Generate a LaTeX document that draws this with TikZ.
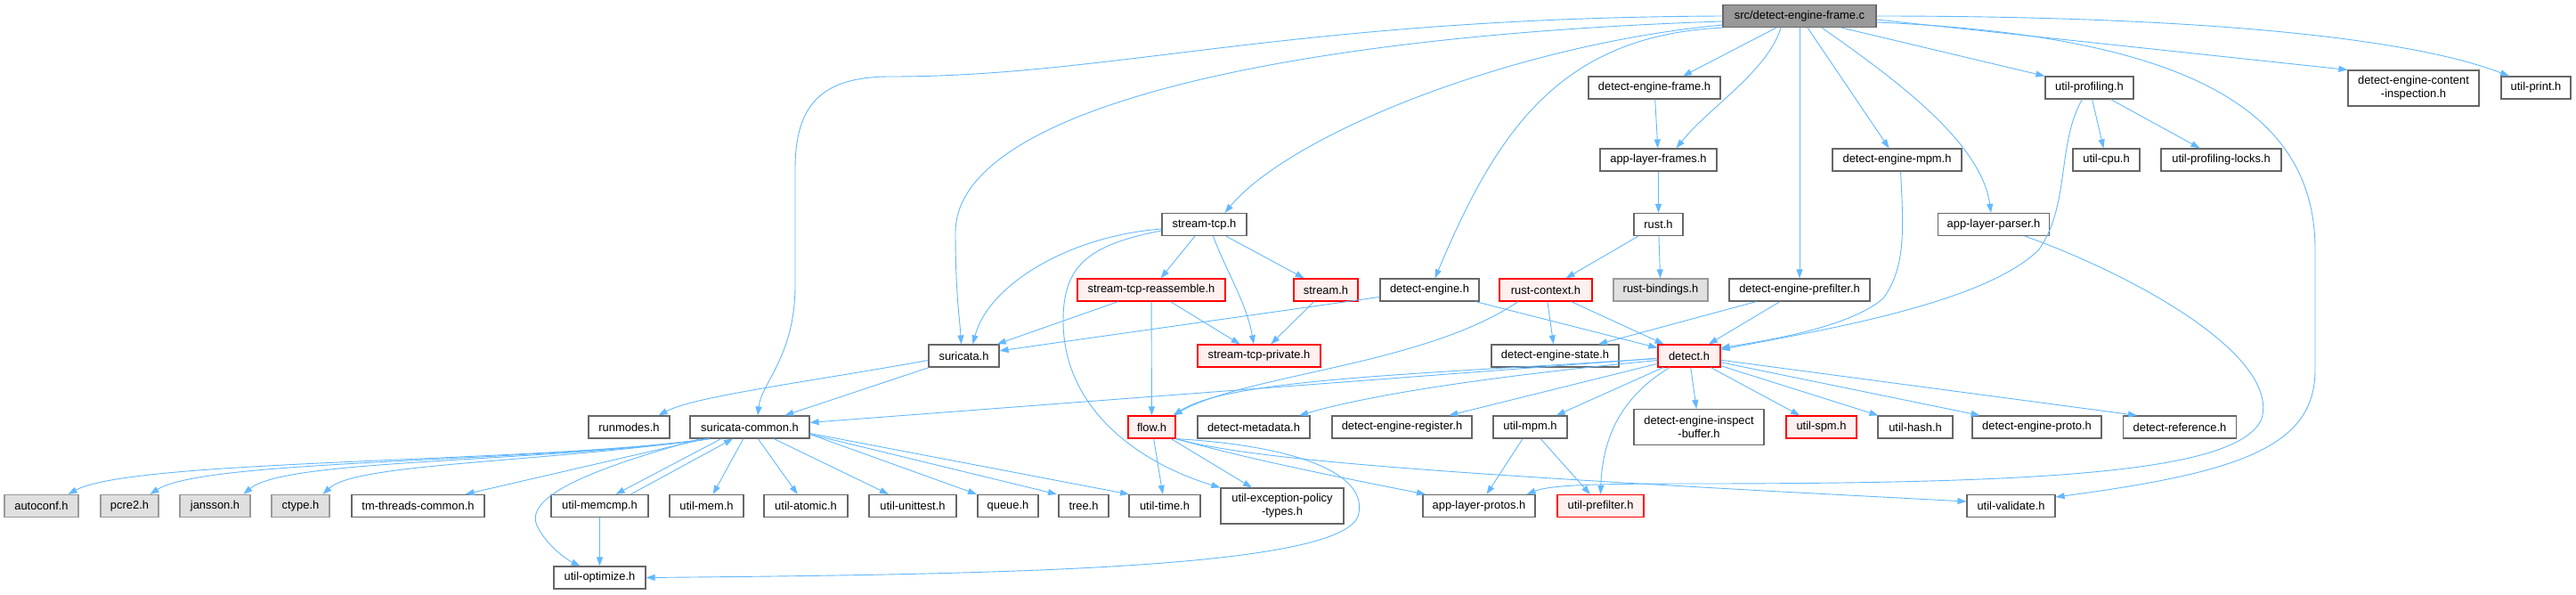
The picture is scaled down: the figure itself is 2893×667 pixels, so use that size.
\documentclass[tikz,border=0pt]{standalone}
\usepackage{fontspec}
\setmainfont{Liberation Sans}
\usetikzlibrary{arrows.meta}
\definecolor{incblue}{HTML}{63B8FF}
\definecolor{boxline}{HTML}{666666}
\definecolor{rootfill}{HTML}{999999}
\definecolor{sysfill}{HTML}{E0E0E0}
\definecolor{sysline}{HTML}{999999}
\definecolor{redfill}{HTML}{FFF0F0}
\begin{document}
\begin{tikzpicture}[x=1pt,y=-1pt,
   hdr/.style={draw=boxline,fill=white,line width=1.2pt,inner sep=0pt,
      minimum height=25pt,font=\fontsize{12.9pt}{15pt}\selectfont},
   rootfile/.style={hdr,fill=rootfill},
   redhdr/.style={hdr,draw=red,fill=redfill},
   syshdr/.style={hdr,draw=sysline,fill=sysfill},
   tall/.style={minimum height=40pt,align=center},
   inc/.style={draw=incblue,line width=0.9pt,-{Triangle[length=10pt,width=7pt]}}]
\useasboundingbox (0,0) rectangle (2893,667);
\node[rootfile,minimum width=172pt] (src) at (2021,18) {src/detect-engine-frame.c};
\node[hdr,minimum width=148pt] (dframe) at (1858,98.5) {detect-engine-frame.h};
\node[hdr,minimum width=99pt] (uprof) at (2346.5,98.5) {util-profiling.h};
\node[hdr,tall,minimum width=147pt] (dcontent) at (2710.5,99) {detect-engine-content\\-inspection.h};
\node[hdr,minimum width=78pt] (uprint) at (2848,98.5) {util-print.h};
\node[hdr,minimum width=131pt] (alframes) at (1862.5,179.5) {app-layer-frames.h};
\node[hdr,minimum width=145pt] (dempm) at (2130.5,179.5) {detect-engine-mpm.h};
\node[hdr,minimum width=75pt] (ucpu) at (2365.5,179.5) {util-cpu.h};
\node[hdr,minimum width=135pt] (uplocks) at (2494.5,179.5) {util-profiling-locks.h};
\node[hdr,minimum width=95pt] (streamtcp) at (1352.5,252) {stream-tcp.h};
\node[hdr,minimum width=55pt] (rust) at (1862.5,252) {rust.h};
\node[hdr,minimum width=125pt] (alparser) at (2239,252) {app-layer-parser.h};
\node[redhdr,minimum width=166pt] (reassemble) at (1293,325.5) {stream-tcp-reassemble.h};
\node[redhdr,minimum width=72pt] (stream) at (1489,325.5) {stream.h};
\node[hdr,minimum width=111pt] (dengine) at (1605.5,325.5) {detect-engine.h};
\node[redhdr,minimum width=104pt] (rustctx) at (1736,325.5) {rust-context.h};
\node[syshdr,minimum width=106pt] (rbind) at (1865,325.5) {rust-bindings.h};
\node[hdr,minimum width=158pt] (prefilter) at (2021,325.5) {detect-engine-prefilter.h};
\node[hdr,minimum width=79pt] (suricata) at (1082.5,399.5) {suricata.h};
\node[redhdr,minimum width=138pt] (stcppriv) at (1414,399.5) {stream-tcp-private.h};
\node[hdr,minimum width=143pt] (destate) at (1746.5,399.5) {detect-engine-state.h};
\node[redhdr,minimum width=70pt] (detect) at (1897,399.5) {detect.h};
\node[hdr,minimum width=91pt] (runmodes) at (706.5,479.5) {runmodes.h};
\node[hdr,minimum width=134pt] (scommon) at (842,479.5) {suricata-common.h};
\node[redhdr,minimum width=53pt] (flow) at (1293.5,479.5) {flow.h};
\node[hdr,minimum width=126pt] (dmeta) at (1408,479.5) {detect-metadata.h};
\node[hdr,minimum width=157pt] (dereg) at (1574.5,479.5) {detect-engine-register.h};
\node[hdr,minimum width=83pt] (umpm) at (1718.5,479.5) {util-mpm.h};
\node[hdr,tall,minimum width=146pt] (inspbuf) at (1908,479.5) {detect-engine-inspect\\-buffer.h};
\node[redhdr,minimum width=79pt] (uspm) at (2045.5,479.5) {util-spm.h};
\node[hdr,minimum width=84pt] (uhash) at (2151,479.5) {util-hash.h};
\node[hdr,minimum width=145pt] (deproto) at (2287.5,479.5) {detect-engine-proto.h};
\node[hdr,minimum width=127pt] (dref) at (2448,479.5) {detect-reference.h};
\node[syshdr,minimum width=83pt] (autoconf) at (46.5,568) {autoconf.h};
\node[syshdr,minimum width=65pt] (pcre) at (145.5,568) {pcre2.h};
\node[syshdr,minimum width=79pt] (jansson) at (241.5,568) {jansson.h};
\node[syshdr,minimum width=65pt] (ctype) at (337.5,568) {ctype.h};
\node[hdr,minimum width=149pt] (tmthreads) at (469.5,568) {tm-threads-common.h};
\node[hdr,minimum width=109pt] (umemcmp) at (673.5,568) {util-memcmp.h};
\node[hdr,minimum width=83pt] (umem) at (793.5,568) {util-mem.h};
\node[hdr,minimum width=94pt] (uatomic) at (905,568) {util-atomic.h};
\node[hdr,minimum width=98pt] (uunit) at (1025,568) {util-unittest.h};
\node[hdr,minimum width=68pt] (queue) at (1132,568) {queue.h};
\node[hdr,minimum width=56pt] (tree) at (1217,568) {tree.h};
\node[hdr,minimum width=80pt] (utime) at (1308,568) {util-time.h};
\node[hdr,tall,minimum width=138pt] (excpol) at (1440,568) {util-exception-policy\\-types.h};
\node[hdr,minimum width=126pt] (alprotos) at (1661,568) {app-layer-protos.h};
\node[redhdr,minimum width=97pt] (upref) at (1797.5,568) {util-prefilter.h};
\node[hdr,minimum width=99pt] (uvalidate) at (2258.5,568) {util-validate.h};
\node[hdr,minimum width=103pt] (uopt) at (673.5,648.5) {util-optimize.h};
% includes of src/detect-engine-frame.c
\draw[inc] (src.west) .. controls (1450,20) and (1250,86) .. (1000,86)
   .. controls (920,86) and (893,120) .. (893,190) -- (893,320)
   .. controls (893,400) and (855,430) .. ([xshift=9pt]scommon.north);
\draw[inc] ([yshift=-6pt]src.west) .. controls (1450,40) and (1075,120) .. (1073,260)
   .. controls (1073,330) and (1078,360) .. ([xshift=-3pt]suricata.north);
\draw[inc] ([yshift=-10pt]src.west) .. controls (1700,50) and (1450,150) .. ([xshift=23pt]streamtcp.north);
\draw[inc] (src.south west) .. controls (1750,40) and (1680,150) .. ([xshift=6pt]dengine.north);
\draw[inc] ([xshift=-26pt]src.south) -- ([xshift=32pt]dframe.north);
\draw[inc] ([xshift=-21pt]src.south) .. controls (1985,80) and (1920,120) .. ([xshift=20pt]alframes.north);
\draw[inc] (src) -- (prefilter);
\draw[inc] ([xshift=9pt]src.south) -- ([xshift=-9pt]dempm.north);
\draw[inc] ([xshift=25pt]src.south) .. controls (2130,90) and (2225,160) .. ([xshift=-3pt]alparser.north);
\draw[inc] ([xshift=47pt]src.south) -- (uprof.north west);
\draw[inc] ([yshift=-7pt]src.east) .. controls (2450,40) and (2600,120) .. (2600,280) -- (2600,415)
   .. controls (2600,500) and (2520,530) .. ([yshift=10pt]uvalidate.east);
\draw[inc] ([yshift=-4pt]src.east) -- (dcontent.north west);
\draw[inc] (src.east) .. controls (2450,18) and (2700,40) .. ([xshift=-30pt]uprint.north);
% second level
\draw[inc] (dframe) -- (alframes);
\draw[inc] (alframes) -- (rust);
\draw[inc] (rust) -- (rustctx);
\draw[inc] (rust) -- (rbind);
\draw[inc] ([yshift=-5pt]streamtcp.west) .. controls (1200,265) and (1110,320) .. ([xshift=10pt]suricata.north);
\draw[inc] ([yshift=-7pt]streamtcp.west) .. controls (1220,275) and (1194,300) .. (1194,360)
   .. controls (1194,460) and (1280,520) .. (excpol.north west);
\draw[inc] (streamtcp) -- (reassemble);
\draw[inc] ([xshift=10pt]streamtcp.south) .. controls (1375,300) and (1400,340) .. ([xshift=-6pt]stcppriv.north);
\draw[inc] (streamtcp) -- (stream);
\draw[inc] (reassemble) -- (suricata);
\draw[inc] (reassemble) -- (stcppriv);
\draw[inc] (reassemble) -- (flow);
\draw[inc] (stream) -- (stcppriv);
\draw[inc] (dengine) -- (suricata);
\draw[inc] (dengine) -- (detect);
\draw[inc] ([xshift=-31pt]rustctx.south) .. controls (1600,410) and (1400,420) .. ([xshift=-3pt]flow.north east);
\draw[inc] (rustctx) -- (destate);
\draw[inc] (rustctx) -- (detect);
\draw[inc] (prefilter) -- (destate);
\draw[inc] (prefilter) -- (detect);
\draw[inc] ([xshift=4pt]dempm.south) .. controls (2138,260) and (2140,300) .. (2115,335)
   .. controls (2080,365) and (2000,380) .. ([yshift=9pt]detect.east);
\draw[inc] ([xshift=-8pt]uprof.south) .. controls (2310,160) and (2325,230) .. (2290,280)
   .. controls (2230,340) and (2050,370) .. ([yshift=7pt]detect.east);
\draw[inc] (uprof) -- (ucpu);
\draw[inc] (uprof) -- (uplocks);
\draw[inc] ([xshift=35pt]alparser.south) .. controls (2400,310) and (2560,400) .. (2540,470)
   .. controls (2515,530) and (2300,543) .. (1900,543)
   .. controls (1780,543) and (1740,545) .. ([xshift=-10pt]alprotos.north east);
\draw[inc] ([yshift=-5pt]suricata.west) .. controls (900,430) and (780,445) .. ([xshift=33pt]runmodes.north);
\draw[inc] (suricata) -- (scommon);
% detect.h
\draw[inc] (detect) -- (scommon);
\draw[inc] ([yshift=-3pt]detect.west) .. controls (1600,420) and (1380,425) .. ([xshift=-3pt]flow.north east);
\draw[inc] ([yshift=-5pt]detect.west) .. controls (1700,420) and (1550,440) .. ([xshift=51pt]dmeta.north);
\draw[inc] (detect) -- (dereg);
\draw[inc] (detect) -- (umpm);
\draw[inc] (detect) -- (inspbuf);
\draw[inc] ([xshift=-22pt]detect.south) .. controls (1830,440) and (1800,480) .. (upref.north);
\draw[inc] (detect) -- (uspm);
\draw[inc] (detect) -- (uhash);
\draw[inc] (detect) -- (deproto);
\draw[inc] (detect) -- ([xshift=-48pt]dref.north);
% flow.h
\draw[inc] (flow) -- (utime);
\draw[inc] (flow) -- (excpol);
\draw[inc] (flow.south east) .. controls (1400,515) and (1500,535) .. ([xshift=-60pt]alprotos.north);
\draw[inc] (flow.south east) .. controls (1400,515) and (1600,530) .. (2000,552) -- ([yshift=5pt]uvalidate.west);
\draw[inc] (flow.south east) .. controls (1450,500) and (1540,530) .. (1525,580)
   .. controls (1500,640) and (1100,645) .. (uopt.east);
\draw[inc] (umpm) -- (alprotos);
\draw[inc] (umpm) -- (upref);
% suricata-common.h
\draw[inc] ([xshift=-45pt]scommon.south) .. controls (600,520) and (150,515) .. ([xshift=30pt]autoconf.north);
\draw[inc] ([xshift=-45pt]scommon.south) .. controls (600,520) and (230,515) .. ([xshift=23pt]pcre.north);
\draw[inc] ([xshift=-45pt]scommon.south) .. controls (600,520) and (320,515) .. ([xshift=32pt]jansson.north);
\draw[inc] ([xshift=-45pt]scommon.south) .. controls (600,520) and (400,520) .. ([xshift=25pt]ctype.north);
\draw[inc] ([xshift=-50pt]scommon.south) -- ([xshift=53pt]tmthreads.north);
\draw[inc] ([xshift=-32pt]scommon.south) -- ([xshift=18pt]umemcmp.north);
\draw[inc] ([xshift=35pt]umemcmp.north) -- ([xshift=-19pt]scommon.south);
\draw[inc] ([xshift=-55pt]scommon.south) .. controls (650,530) and (590,560) .. (603,590)
   .. controls (615,615) and (640,630) .. ([xshift=-22pt]uopt.north);
\draw[inc] (scommon) -- (umem);
\draw[inc] (scommon) -- (uatomic);
\draw[inc] (scommon) -- (uunit);
\draw[inc] ([yshift=-8pt]scommon.east) -- ([xshift=-35pt]queue.north);
\draw[inc] ([yshift=-8pt]scommon.east) -- ([xshift=-30pt]tree.north);
\draw[inc] ([yshift=-7pt]scommon.east) -- ([xshift=-40pt]utime.north);
\draw[inc] (umemcmp) -- (uopt);
\end{tikzpicture}
\end{document}
